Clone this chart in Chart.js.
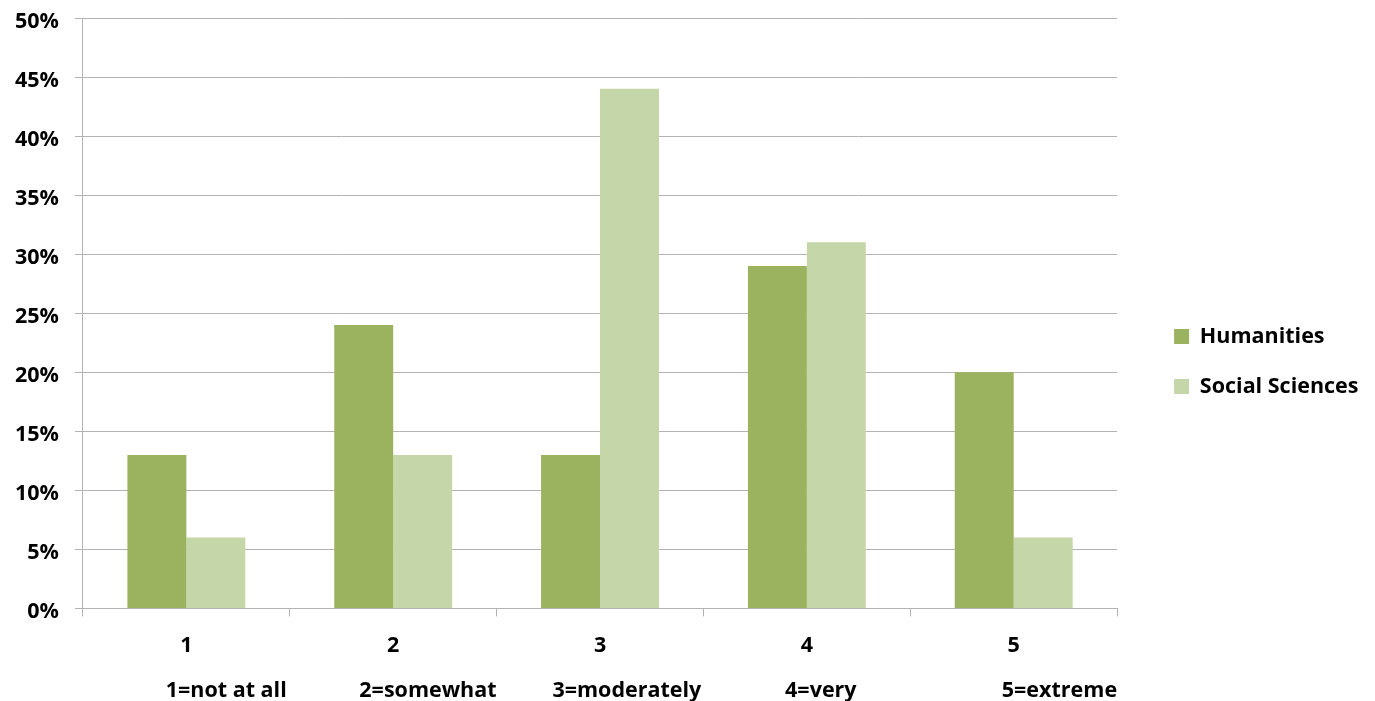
<!DOCTYPE html>
<html>
<head>
<meta charset="utf-8">
<script src="https://cdn.jsdelivr.net/npm/chart.js@4"></script>
<style>
  html, body { margin: 0; padding: 0; background: #fff; }
  #wrap { width: 1375px; height: 701px; position: relative; }
</style>
</head>
<body>
<div id="wrap"><canvas id="myBarChart"></canvas></div>
<script>
const categories = ['1', '2', '3', '4', '5'];
const humanities = [13, 24, 13, 29, 20];
const socialSciences = [6, 13, 44, 31, 6];
const yTicks = [0, 5, 10, 15, 20, 25, 30, 35, 40, 45, 50];
const scaleWords = ['1=not at all', '2=somewhat', '3=moderately', '4=very', '5=extreme'];
const scaleGaps = [13, 10, 15, 26];

// scale legend line under the axis, spaced out with plain spaces
let scaleNote = scaleWords[0];
for (let i = 1; i < scaleWords.length; i++) {
  scaleNote += ' '.repeat(scaleGaps[i - 1]) + scaleWords[i];
}

const gridColor = '#b3b3b3';
const font = { family: 'Open Sans', weight: 'bold', size: 21.5 };

// extra room between plot and legend
const legendGap = {
  id: 'legendGap',
  beforeUpdate(chart) {
    const legend = chart.legend;
    if (legend && !legend._gapWrapped) {
      const fit = legend.fit;
      legend.fit = function () {
        fit.call(this);
        this.width += 35;
      };
      legend._gapWrapped = true;
    }
  },
  afterLayout(chart) {
    chart.legend.left += 28.5;
    chart.legend.top += 1;
  },
};

const barData = {
  labels: categories,
  datasets: [
    {
      label: 'Humanities',
      data: humanities,
      backgroundColor: '#9bb25f',
    },
    {
      label: 'Social Sciences',
      data: socialSciences,
      backgroundColor: '#c5d6a8',
    },
  ],
};

const barConfig = {
  type: 'bar',
  data: barData,
  plugins: [legendGap],
  options: {
    animation: false,
    maintainAspectRatio: false,
    responsive: true,
    categoryPercentage: 0.57,
    barPercentage: 1.0,
    layout: { padding: { top: 18, right: 0, left: -1, bottom: -3 } },
    plugins: {
      legend: {
        position: 'right',
        labels: {
          color: '#000',
          font: font,
          boxWidth: 15,
          boxHeight: 15,
          padding: 28.5,
        },
      },
      tooltip: { enabled: false },
    },
    scales: {
      x: {
        grid: {
          display: true,
          drawOnChartArea: false,
          color: gridColor,
          tickLength: 8,
        },
        border: { color: gridColor },
        ticks: { color: '#000', font: font, padding: 17 },
        title: {
          display: true,
          text: scaleNote,
          align: 'end',
          color: '#000',
          font: font,
          padding: { top: 2, bottom: 0 },
        },
      },
      y: {
        min: 0,
        max: 50,
        afterBuildTicks: (axis) => {
          axis.ticks = yTicks.map(v => ({ value: v }));
        },
        afterFit: (axis) => {
          axis.paddingTop = 0;
          axis.paddingBottom = 0;
        },
        grid: { color: gridColor, tickLength: 8 },
        border: { color: gridColor },
        ticks: {
          color: '#000',
          font: font,
          padding: 16,
          labelOffset: 3.5,
          callback: (value) => value + '%',
        },
      },
    },
  },
};

const myBarChart = new Chart(document.getElementById('myBarChart'), barConfig);
</script>
</body>
</html>
